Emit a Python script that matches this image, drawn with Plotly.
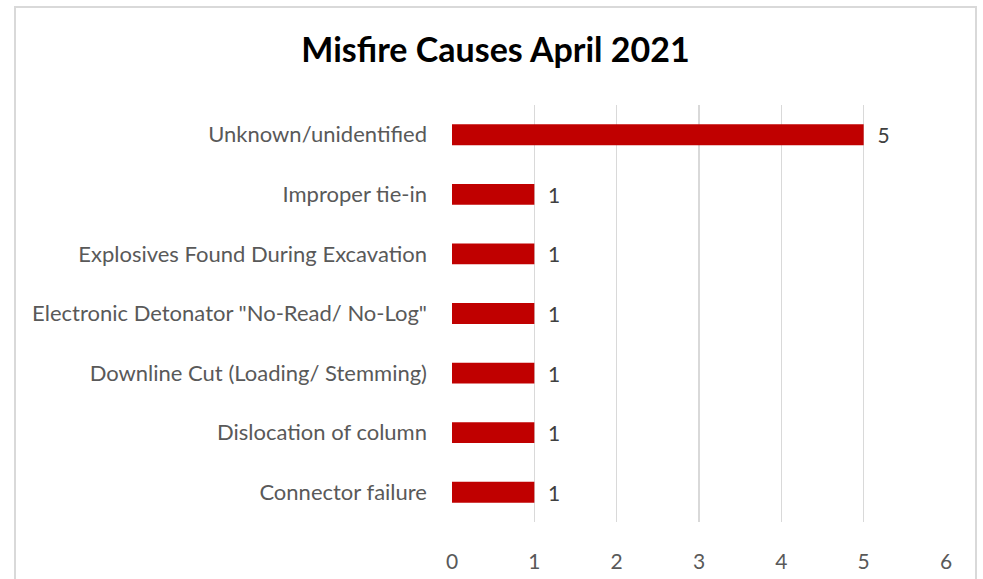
import plotly.graph_objects as go

categories = [
    "Connector failure",
    "Dislocation of column",
    "Downline Cut (Loading/ Stemming)",
    "Electronic Detonator \"No-Read/ No-Log\"",
    "Explosives Found During Excavation",
    "Improper tie-in",
    "Unknown/unidentified",
]
counts = [1, 1, 1, 1, 1, 1, 5]
x_ticks = [0, 1, 2, 3, 4, 5, 6]

FONT = "Lato"
W, H = 983, 579
PX_L, PX_R, PX_T, PX_B = 452, 946, 105, 522
L, T = PX_L, PX_T
R = W - PX_R
B = H - PX_B

fig = go.Figure(
    go.Bar(
        x=counts,
        y=categories,
        orientation="h",
        marker=dict(color="#C00000", line=dict(width=0)),
        text=counts,
        texttemplate="  %{x}",
        textposition="outside",
        constraintext="none",
        textfont=dict(family=FONT, size=21, color="#404040"),
        cliponaxis=False,
        width=0.35,
        hoverinfo="skip",
    )
)

pw = W - L - R
ph = H - T - B

def px_to_paper_x(px):
    return (px - L) / pw

def px_to_paper_y(py):
    return (H - B - py) / ph

fig.add_shape(
    type="rect", xref="paper", yref="paper",
    x0=px_to_paper_x(15), x1=px_to_paper_x(976),
    y0=px_to_paper_y(620), y1=px_to_paper_y(7),
    line=dict(color="#D9D9D9", width=2), fillcolor="rgba(0,0,0,0)",
    layer="below",
)

fig.update_layout(
    width=W, height=H,
    margin=dict(l=L, r=R, t=T, b=B, autoexpand=False),
    paper_bgcolor="white", plot_bgcolor="white",
    showlegend=False,
    title=dict(
        text="<b>Misfire Causes April 2021</b>",
        x=495.5 / W, xanchor="center",
        y=1 - 50 / H, yanchor="middle",
        font=dict(family=FONT, size=34, color="#000000"),
    ),
    xaxis=dict(
        range=[0, 6], tickvals=x_ticks, ticktext=[str(v) for v in x_ticks],
        showgrid=True, gridcolor="#D9D9D9", gridwidth=1.5,
        zeroline=False, showline=False, ticks="",
        tickfont=dict(family=FONT, size=21, color="#595959"),
        ticklabelstandoff=25, automargin=False, fixedrange=True,
    ),
    yaxis=dict(
        categoryorder="array", categoryarray=categories,
        showgrid=False, zeroline=False, showline=False, ticks="",
        tickfont=dict(family=FONT, size=22, color="#595959"),
        ticklabelstandoff=24, automargin=False, fixedrange=True,
    ),
)

fig.write_html(
    "out.html",
    config=dict(displayModeBar=False, staticPlot=True),
    post_script="document.body.style.margin='0';document.body.style.overflow='hidden';",
)
